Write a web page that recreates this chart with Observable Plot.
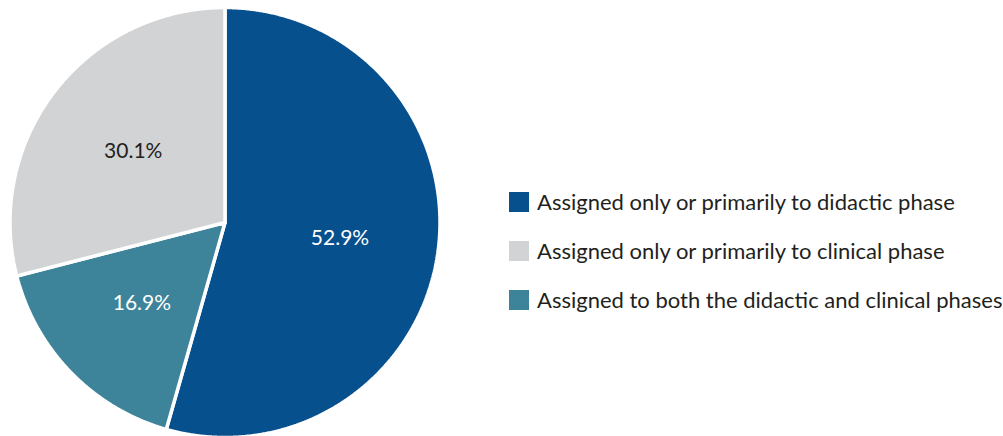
<!DOCTYPE html>
<html>
<head>
<meta charset="utf-8">
<script src="https://cdn.jsdelivr.net/npm/d3@7"></script>
<script src="https://cdn.jsdelivr.net/npm/@observablehq/plot@0.6"></script>
<style>
  html, body { margin: 0; padding: 0; background: #fff; }
  #wrap { position: relative; width: 1003px; height: 436px; overflow: hidden; font-family: Lato, "Open Sans", sans-serif; }
  #legend { position: absolute; left: 509px; top: 192px; }
  .item { display: flex; align-items: center; height: 20px; margin-bottom: 29px; }
  .sw { width: 20px; height: 20px; margin-right: 8px; flex: none; }
  .lab { font-size: 22px; color: #231f20; white-space: nowrap; line-height: 20px; }
</style>
</head>
<body>
<div id="wrap"></div>
<script>
// Data (clockwise from 12 o'clock)
const categories = [
  "Assigned only or primarily to didactic phase",
  "Assigned to both the didactic and clinical phases",
  "Assigned only or primarily to clinical phase"
];
// printed labels
const labels = ["52.9%", "16.9%", "30.1%"];
// slice sizes as drawn in the picture
const sliceShares = [54.4, 16.6, 29.0];
const colors = ["#07508e", "#3d8399", "#d2d3d5"];
const labelColors = ["#ffffff", "#ffffff", "#231f20"];
const legendOrder = [
  "Assigned only or primarily to didactic phase",
  "Assigned only or primarily to clinical phase",
  "Assigned to both the didactic and clinical phases"
];

const rows = categories.map((c, i) => ({category: c, value: sliceShares[i], label: labels[i], labelColor: labelColors[i]}));
const arcs = d3.pie().sort(null).value(d => d.value)(rows);

// Build slice outlines (unit circle coordinates) from pie angles
const pts = [];
for (const a of arcs) {
  const n = Math.max(2, Math.ceil((a.endAngle - a.startAngle) / 0.005));
  pts.push({category: a.data.category, x: 0, y: 0});
  for (let k = 0; k <= n; k++) {
    const t = a.startAngle + (a.endAngle - a.startAngle) * k / n;
    pts.push({category: a.data.category, x: Math.sin(t), y: Math.cos(t)});
  }
  pts.push({category: a.data.category, x: 0, y: 0});
}
const labelPts = arcs.map(a => {
  const m = (a.startAngle + a.endAngle) / 2;
  const f = 0.54;
  return {label: a.data.label, color: a.data.labelColor, x: f * Math.sin(m), y: f * Math.cos(m)};
});

const cx = 224.5, cy = 222, r = 215;
const chart = Plot.plot({
  width: 1003,
  height: 436,
  margin: 0,
  x: {domain: [-1, 1], range: [cx - r, cx + r], axis: null},
  y: {domain: [-1, 1], range: [cy + r, cy - r], axis: null},
  color: {domain: categories, range: colors},
  style: {fontFamily: "Lato, 'Open Sans', sans-serif"},
  marks: [
    Plot.line(pts, {x: "x", y: "y", z: "category", fill: "category", stroke: "#ffffff", strokeWidth: 3.5, strokeLinejoin: "miter", curve: "linear"}),
    Plot.text(labelPts, {x: "x", y: "y", text: "label", fill: "color", fontSize: 21})
  ]
});
const wrap = document.getElementById("wrap");
wrap.appendChild(chart);

const legend = document.createElement("div");
legend.id = "legend";
for (const name of legendOrder) {
  const i = categories.indexOf(name);
  const item = document.createElement("div");
  item.className = "item";
  const sw = document.createElement("span");
  sw.className = "sw";
  sw.style.background = colors[i];
  const lab = document.createElement("span");
  lab.className = "lab";
  lab.textContent = name;
  item.appendChild(sw);
  item.appendChild(lab);
  legend.appendChild(item);
}
wrap.appendChild(legend);
</script>
</body>
</html>
